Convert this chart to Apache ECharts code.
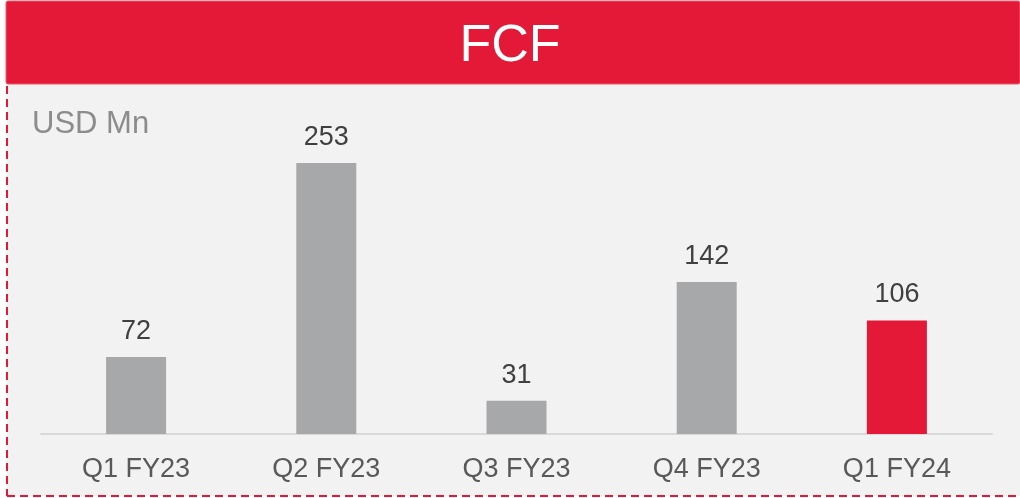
<!DOCTYPE html>
<html>
<head>
<meta charset="utf-8">
<script src="https://cdn.jsdelivr.net/npm/echarts@6/dist/echarts.min.js"></script>
<style>
html,body{margin:0;padding:0;background:#ffffff;}
#c{width:1020px;height:498px;}
</style>
</head>
<body>
<div id="c"></div>
<script>
const categories = ['Q1 FY23', 'Q2 FY23', 'Q3 FY23', 'Q4 FY23', 'Q1 FY24'];
const fcfValues = [72, 253, 31, 142, 106];
const highlightIndex = 4;

const chart = echarts.init(document.getElementById('c'), null, {renderer: 'canvas'});
const GRAY = '#a7a8aa';
const RED = '#e31937';
const FONT = 'Liberation Sans, Arial, sans-serif';

chart.setOption({
  backgroundColor: '#ffffff',
  animation: false,
  graphic: [
    {type: 'rect', shape: {x: 7, y: 84, width: 1013, height: 412}, style: {fill: '#f2f2f2'}, z: 0},
    {type: 'line', shape: {x1: 7, y1: 86, x2: 7, y2: 496}, style: {stroke: RED, lineWidth: 2, lineDash: [8, 5]}, z: 1},
    {type: 'line', shape: {x1: 7, y1: 496, x2: 1020, y2: 496}, style: {stroke: RED, lineWidth: 2, lineDash: [8, 5]}, z: 1},
    {type: 'rect', shape: {x: 6, y: 1, width: 1014, height: 83, r: 2}, style: {fill: RED, stroke: '#ea5a6e', lineWidth: 1}, z: 2},
    {type: 'text', left: 'center', top: 21, style: {text: 'FCF', fill: '#ffffff', font: '52px ' + FONT}, z: 3},
    {type: 'text', left: 32, top: 109, style: {text: 'USD Mn', fill: '#8c8c8c', font: '31px ' + FONT}, z: 3}
  ],
  grid: {left: 41, right: 28, top: 112.7, bottom: 64, containLabel: false},
  xAxis: {
    type: 'category',
    data: categories,
    axisLine: {show: true, lineStyle: {color: '#d9d9d9', width: 2}},
    axisTick: {show: false},
    axisLabel: {color: '#595959', fontSize: 27, fontFamily: FONT, margin: 22}
  },
  yAxis: {
    type: 'value',
    min: 0,
    max: 300,
    show: false,
    splitLine: {show: false}
  },
  series: [{
    type: 'bar',
    data: fcfValues.map((v, i) => ({value: v, itemStyle: {color: i === highlightIndex ? RED : GRAY}})),
    barWidth: 60,
    label: {
      show: true,
      position: 'top',
      distance: 12,
      color: '#404040',
      fontSize: 27,
      fontFamily: FONT
    }
  }]
});
</script>
</body>
</html>
